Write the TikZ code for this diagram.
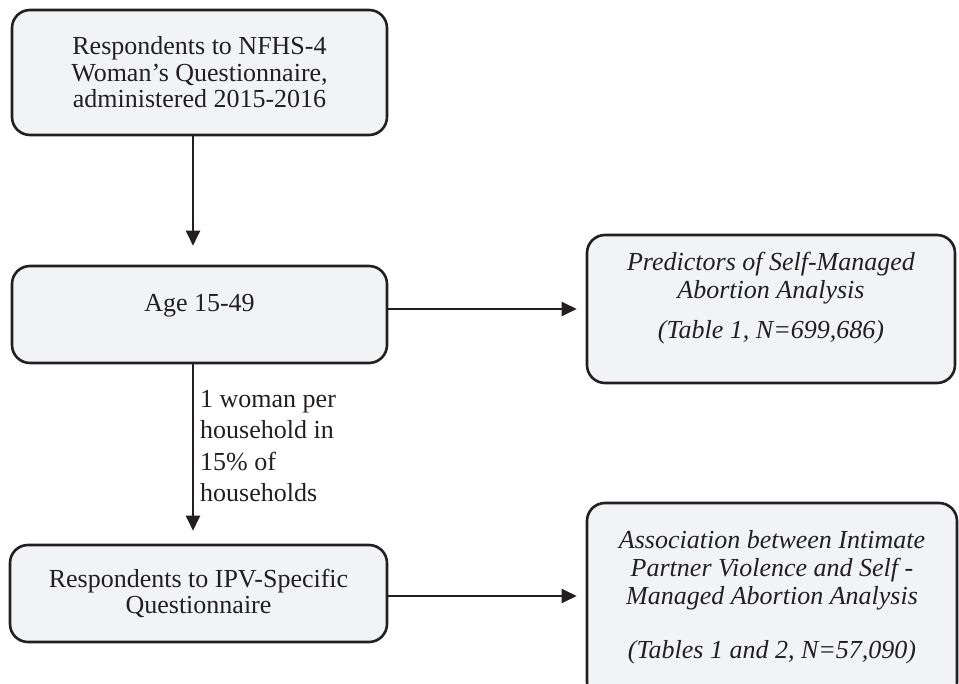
\documentclass[tikz,border=0pt]{standalone}
\usepackage{fontspec}
\setmainfont{Liberation Serif}
\usetikzlibrary{arrows.meta,positioning}
\definecolor{boxfill}{RGB}{242,243,245}
\definecolor{inkdark}{RGB}{35,31,32}

\begin{document}
\begin{tikzpicture}[x=1pt,y=-1pt,
        box/.style={rectangle,rounded corners=18pt,draw=inkdark,fill=boxfill,line width=2.6pt,inner sep=0pt},
        boxtext/.style={align=center,font=\fontsize{26}{26.5}\selectfont,text=inkdark,inner sep=0pt},
        resulttext/.style={boxtext,font=\fontsize{26}{28}\selectfont\itshape},
        note/.style={align=left,font=\fontsize{26}{31.5}\selectfont,text=inkdark,inner sep=0pt},
        arrow/.style={-{Triangle[length=15pt,width=14pt]},line width=2.3pt,draw=inkdark}]
        \useasboundingbox (0,0) rectangle (959,684);
        % left column
        \node[box,boxtext,minimum width=375pt,minimum height=125pt] (resp) at (199.5,72.5)
          {Respondents to NFHS-4\\Woman’s Questionnaire,\\administered 2015-2016};
        \node[box,minimum width=375pt,minimum height=97pt] (age) at (199.5,314.5) {};
        \node[boxtext,below=29.5pt of age.north] (agetext) {Age 15-49};
        \node[box,boxtext,minimum width=377pt,minimum height=97pt] (ipv) at (198.5,593.5)
          {Respondents to IPV-Specific\\Questionnaire};
        \node[note,anchor=north west] (sample) at (200,390)
          {1 woman per\\household in\\15\% of\\households};
        % right column
        \node[box,minimum width=368pt,minimum height=148pt] (pred) at (771,309) {};
        \node[resulttext,below=18pt of pred.north] (predtext)
          {Predictors of Self-Managed\\Abortion Analysis\\[12pt](Table 1, N=699,686)};
        \node[box,minimum width=370pt,minimum height=197pt] (assoc) at (772,601.5) {};
        \node[resulttext,below=29pt of assoc.north] (assoctext)
          {Association between Intimate\\Partner Violence and Self -\\Managed Abortion Analysis\\[26pt](Tables 1 and 2, N=57,090)};
        % connectors
        \draw[arrow,shorten >=19pt] ([xshift=-6.5pt]resp.south) -- ([xshift=-6.5pt]age.north);
        \draw[arrow,shorten >=13pt] ([xshift=-6.5pt]age.south) -- ([xshift=-5.5pt]ipv.north);
        \draw[arrow,shorten >=9pt] (pred.west -| age.east) -- (pred.west);
        \draw[arrow,shorten >=9pt] ([yshift=-2.5pt]ipv.east) -- ([yshift=-2.5pt]ipv.east -| assoc.west);
      \end{tikzpicture}
\end{document}
